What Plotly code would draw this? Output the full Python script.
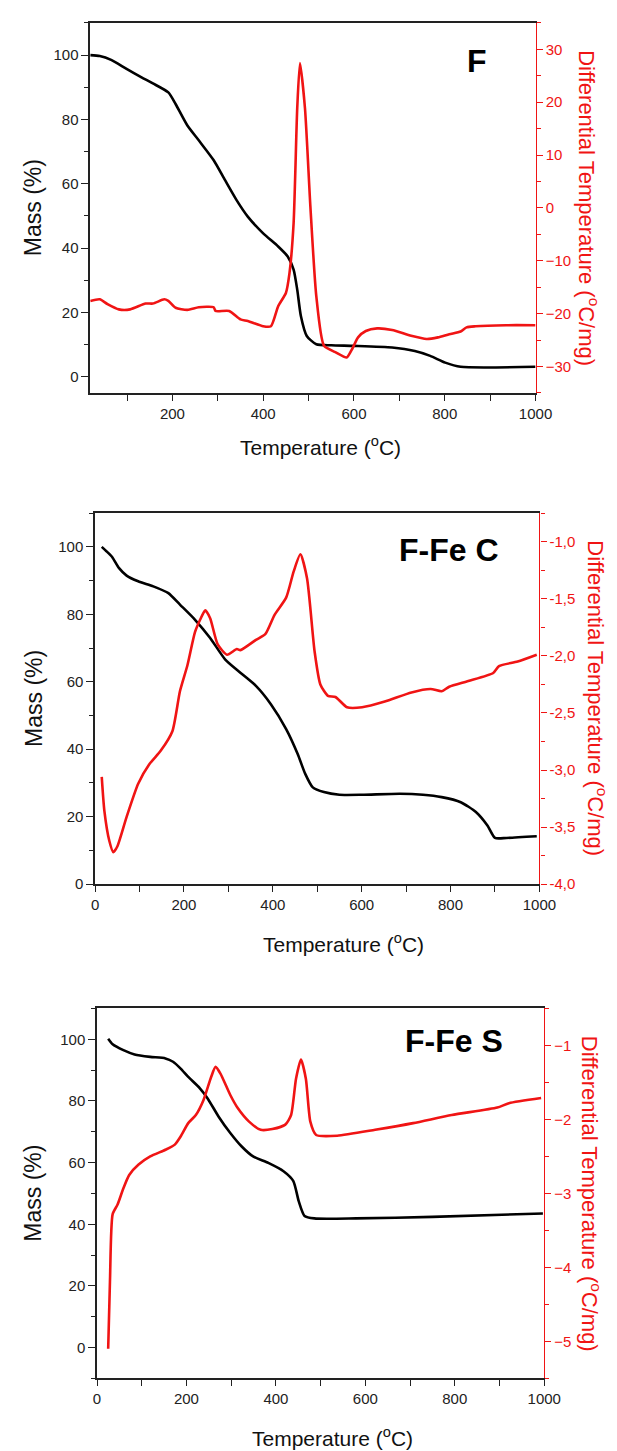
import plotly.graph_objects as go

# ---------------- Data ----------------
# Panel F
f_mass_t = [19, 40, 65, 99, 132, 157, 191, 207, 233, 258, 291, 316, 341, 366, 400, 433, 454, 467, 475, 483, 496, 517, 550, 600, 684, 734, 768, 801, 835, 1000]
f_mass = [100, 99.7, 98.5, 95.7, 93.1, 91.2, 88.4, 84.8, 78.1, 73.5, 67.3, 61.1, 55.0, 49.8, 44.6, 40.5, 37.4, 33.3, 27.1, 18.9, 12.7, 10.1, 9.8, 9.6, 9.1, 8.0, 6.5, 4.4, 3.1, 3.1]
f_dt_t = [19, 40, 57, 82, 107, 141, 157, 182, 191, 207, 233, 258, 291, 295, 325, 350, 366, 400, 417, 433, 450, 458, 467, 475, 481, 492, 504, 517, 534, 559, 584, 596, 609, 626, 651, 684, 726, 760, 785, 810, 835, 848, 868, 935, 1000]
f_dt = [-17.6, -17.3, -18.2, -19.2, -19.2, -18.1, -18.1, -17.3, -17.6, -18.9, -19.3, -18.8, -18.8, -19.5, -19.5, -21.1, -21.4, -22.4, -22.4, -18.6, -16.1, -12.3, -2.9, 18.9, 27.4, 18.9, 0.2, -16.7, -26.1, -27.3, -28.3, -26.7, -24.5, -23.3, -22.8, -23.1, -24.2, -24.8, -24.5, -23.9, -23.4, -22.6, -22.4, -22.2, -22.2]

# Panel F-Fe C
c_mass_t = [15, 24, 38, 54, 71, 97, 131, 165, 191, 225, 259, 293, 327, 362, 396, 430, 456, 473, 490, 515, 550, 601, 686, 738, 780, 823, 857, 883, 900, 926, 994]
c_mass = [100, 98.9, 97.1, 93.7, 91.5, 89.8, 88.3, 86.3, 82.9, 78.4, 73.0, 66.6, 62.7, 58.8, 53.3, 46.0, 38.6, 32.7, 28.7, 27.3, 26.5, 26.5, 26.8, 26.5, 25.8, 24.3, 21.4, 17.4, 13.7, 13.7, 14.2]
c_dt_t = [15, 21, 32, 41, 50, 71, 97, 122, 148, 174, 191, 208, 225, 238, 248, 259, 276, 297, 319, 327, 362, 383, 404, 430, 447, 462, 477, 494, 507, 524, 541, 567, 601, 652, 712, 755, 780, 797, 840, 896, 909, 951, 994]
c_dt = [-3.06, -3.36, -3.62, -3.72, -3.67, -3.41, -3.12, -2.95, -2.83, -2.66, -2.31, -2.08, -1.79, -1.67, -1.60, -1.67, -1.90, -1.99, -1.94, -1.95, -1.86, -1.81, -1.64, -1.49, -1.26, -1.11, -1.32, -1.96, -2.25, -2.35, -2.36, -2.45, -2.45, -2.40, -2.32, -2.29, -2.31, -2.27, -2.22, -2.15, -2.09, -2.05, -1.99]

# Panel F-Fe S
s_mass_t = [25, 35, 59, 84, 119, 153, 170, 187, 204, 230, 247, 272, 298, 323, 349, 383, 417, 439, 451, 464, 486, 579, 750, 997]
s_mass = [100.2, 98.4, 96.5, 95.1, 94.3, 93.8, 92.7, 90.5, 87.8, 84.1, 80.9, 74.9, 69.6, 65.3, 62.0, 59.9, 57.2, 54.0, 47.5, 42.7, 41.9, 41.9, 42.4, 43.5]
s_dt_t = [25, 29, 35, 46, 59, 72, 93, 119, 153, 174, 187, 204, 221, 238, 255, 265, 276, 298, 315, 340, 366, 392, 421, 434, 445, 456, 467, 477, 490, 537, 622, 707, 793, 895, 921, 993]
s_dt = [-5.1, -4.18, -3.28, -3.15, -2.93, -2.75, -2.61, -2.50, -2.41, -2.34, -2.23, -2.05, -1.94, -1.74, -1.43, -1.29, -1.38, -1.67, -1.85, -2.03, -2.14, -2.13, -2.07, -1.94, -1.45, -1.19, -1.45, -2.03, -2.21, -2.22, -2.14, -2.05, -1.94, -1.84, -1.78, -1.71]

panel_labels = ["F", "F-Fe C", "F-Fe S"]
x_ticks = [0, 200, 400, 600, 800, 1000]
mass_ticks = [0, 20, 40, 60, 80, 100]
c_dt_ticks = [-4.0, -3.5, -3.0, -2.5, -2.0, -1.5, -1.0]
c_dt_ticklabels = ["-4,0", "-3,5", "-3,0", "-2,5", "-2,0", "-1,5", "-1,0"]

# ---------------- Figure ----------------
W, H = 617, 1451
RED = "#f01414"
FONT = "Liberation Sans, Arial, sans-serif"

def px_x(p):
    return p / W

def px_y(p):
    return 1 - p / H

panels = [
    dict(l=81, r=542, t=15, b=387, xr=[19, 1000], yr=[-5, 110], y2r=[-35, 35], y2d=10, y2m=5,
         mass=(f_mass_t, f_mass), dt=(f_dt_t, f_dt), label_pos=(481, 53),
         xt_y=440, xt_x=319, rt_x=597, lt_x=22),
    dict(l=86, r=546, t=508, b=881, xr=[0, 1000], yr=[0, 110], y2r=[-4.0, -0.75], y2d=0.5, y2m=0.25,
         mass=(c_mass_t, c_mass), dt=(c_dt_t, c_dt), label_pos=(452, 545),
         xt_y=940, xt_x=343, rt_x=606, lt_x=22),
    dict(l=88, r=551, t=1006, b=1378, xr=[0, 1000], yr=[-10, 110], y2r=[-5.5, -0.5], y2d=1, y2m=0.5,
         mass=(s_mass_t, s_mass), dt=(s_dt_t, s_dt), label_pos=(458, 1039),
         xt_y=1437, xt_x=332, rt_x=599, lt_x=22),
]

fig = go.Figure()
layout = dict(
    width=W, height=H, margin=dict(l=0, r=0, t=0, b=0),
    paper_bgcolor="white", plot_bgcolor="white", showlegend=False,
    font=dict(family=FONT, size=15, color="#222"),
)
annotations = []

for i, p in enumerate(panels):
    n = i + 1
    xa = "x" if n == 1 else f"x{n}"
    ya = f"y{2*n-1}" if n > 1 else "y"
    yb = f"y{2*n}"
    xkey = "xaxis" if n == 1 else f"xaxis{n}"
    ykey = "yaxis" if n == 1 else f"yaxis{2*n-1}"
    y2key = f"yaxis{2*n}"
    xdom = [px_x(p["l"]), px_x(p["r"])]
    ydom = [px_y(p["b"]), px_y(p["t"])]

    fig.add_trace(go.Scatter(x=p["mass"][0], y=p["mass"][1], mode="lines",
                             line=dict(color="black", width=2.6, shape="spline", smoothing=0.6),
                             xaxis=xa, yaxis=ya))
    fig.add_trace(go.Scatter(x=p["dt"][0], y=p["dt"][1], mode="lines",
                             line=dict(color=RED, width=2.6, shape="spline", smoothing=0.6),
                             xaxis=xa, yaxis=yb))

    layout[xkey] = dict(domain=xdom, range=p["xr"], anchor=ya, showline=True, linecolor="#222",
                        linewidth=1.5, mirror=True, ticks="outside", ticklen=6, tickwidth=1.2,
                        tickcolor="#222", tickvals=x_ticks if n > 1 else x_ticks[1:],
                        minor=dict(dtick=100, tick0=0, ticks="outside", ticklen=6, tickcolor="#222"),
                        showgrid=False, zeroline=False, tickfont=dict(size=15, color="#222"))
    layout[ykey] = dict(domain=ydom, range=p["yr"], anchor=xa, showline=True, linecolor="#222",
                        linewidth=1.5, ticks="outside", ticklen=7, tickwidth=1.2, tickcolor="#222",
                        tickvals=mass_ticks,
                        minor=dict(dtick=10, tick0=0, ticks="outside", ticklen=4, tickcolor="#222"),
                        showgrid=False, zeroline=False, tickfont=dict(size=15, color="#222"))
    y2 = dict(domain=ydom, range=p["y2r"], anchor=xa, overlaying=ya, side="right",
              showline=True, linecolor=RED, linewidth=1.2, ticks="outside", ticklen=6,
              tickwidth=1.2, tickcolor=RED, dtick=p["y2d"],
              minor=dict(dtick=p["y2m"], ticks="outside", ticklen=4, tickcolor=RED),
              showgrid=False, zeroline=False, tickfont=dict(size=15, color=RED))
    if n == 2:
        y2.pop("dtick")
        y2["tickvals"] = c_dt_ticks
        y2["ticktext"] = c_dt_ticklabels
        y2["minor"]["tick0"] = -4.0
    elif n == 1:
        y2["tick0"] = 0
        y2["minor"]["tick0"] = 0
    else:
        y2["tick0"] = -1
        y2["minor"]["tick0"] = -1
    layout[y2key] = y2

    lx, ly = p["label_pos"]
    annotations.append(dict(text=f"<b>{panel_labels[i]}</b>", x=px_x(lx), y=px_y(ly),
                            xref="paper", yref="paper", showarrow=False,
                            font=dict(family=FONT, size=32, color="black"),
                            xanchor="center", yanchor="middle"))
    annotations.append(dict(text="Temperature (<sup>o</sup>C)", x=px_x(p["xt_x"]), y=px_y(p["xt_y"]),
                            xref="paper", yref="paper", showarrow=False,
                            font=dict(family=FONT, size=21, color="#111"),
                            xanchor="center", yanchor="middle"))
    annotations.append(dict(text="Mass (%)", x=px_x(p["lt_x"]), y=(ydom[0] + ydom[1]) / 2,
                            xref="paper", yref="paper", showarrow=False, textangle=-90,
                            font=dict(family=FONT, size=23, color="#111"),
                            xanchor="center", yanchor="middle"))
    annotations.append(dict(text="Differential Temperature (<sup>o</sup>C/mg)", x=px_x(p["rt_x"]),
                            y=(ydom[0] + ydom[1]) / 2,
                            xref="paper", yref="paper", showarrow=False, textangle=90,
                            font=dict(family=FONT, size=22, color=RED),
                            xanchor="center", yanchor="middle"))

layout["annotations"] = annotations
fig.update_layout(**layout)
fig.write_html("out.html")
